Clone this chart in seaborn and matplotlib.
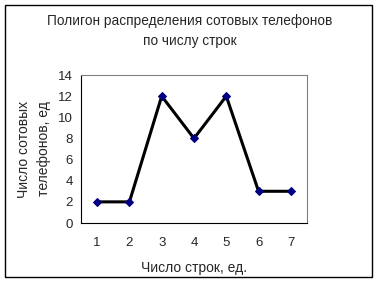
import matplotlib
matplotlib.use("Agg")
import matplotlib.pyplot as plt
import seaborn as sns
import pandas as pd
from matplotlib.ticker import FixedLocator, NullFormatter, FixedFormatter
from matplotlib.patches import Rectangle

rows = [1, 2, 3, 4, 5, 6, 7]
phones = [2, 2, 12, 8, 12, 3, 3]
y_ticks = [0, 2, 4, 6, 8, 10, 12, 14]
title = "Полигон распределения сотовых телефонов\nпо числу строк"
xlabel = "Число строк, ед."
ylabel = "Число сотовых\nтелефонов, ед"

sns.set_style("white")
plt.rcParams['font.family'] = ['Liberation Sans', 'DejaVu Sans']
plt.rcParams['font.size'] = 9.5

df = pd.DataFrame({"rows": rows, "phones": phones})

fig = plt.figure(figsize=(3.8, 2.83), dpi=100)
ax = fig.add_axes([81/380, 1 - 223/283, (307-81)/380, (223-75)/283])

sns.lineplot(data=df, x="rows", y="phones", ax=ax, color="black", linewidth=2.2,
             marker="D", markersize=4.5, markerfacecolor="#000080",
             markeredgecolor="#000080", zorder=3)

ax.set_xlim(0.5, 7.5)
ax.set_ylim(0, 14)
ax.yaxis.set_major_locator(FixedLocator(y_ticks))
ax.xaxis.set_major_locator(FixedLocator([r + 0.5 for r in [0] + rows]))
ax.xaxis.set_major_formatter(NullFormatter())
ax.xaxis.set_minor_locator(FixedLocator(rows))
ax.xaxis.set_minor_formatter(FixedFormatter([str(r) for r in rows]))
ax.tick_params(axis="x", which="major", direction="out", length=5, width=0.8, color="black")
ax.tick_params(axis="x", which="minor", length=0, pad=10, labelsize=9.5)
ax.tick_params(axis="y", direction="out", length=4, width=0.8, color="black", labelsize=9.5, pad=2)

for s in ["left", "bottom"]:
    ax.spines[s].set_color("black")
    ax.spines[s].set_linewidth(0.8)
for s in ["top", "right"]:
    ax.spines[s].set_color("#808080")
    ax.spines[s].set_linewidth(0.8)
    ax.spines[s].set_visible(True)

ax.set_xlabel(xlabel, fontsize=10, labelpad=9)
ax.set_ylabel(ylabel, fontsize=10, labelpad=5, linespacing=1.5)
fig.text(0.5, 1 - 31/283, title, ha="center", va="center", fontsize=9.8, linespacing=1.6)

fig.patches.append(Rectangle((5/380, 1 - 277/283), 367/380, 272/283, transform=fig.transFigure,
                             fill=False, edgecolor="black", linewidth=1))

fig.savefig("out.png", dpi=100)
